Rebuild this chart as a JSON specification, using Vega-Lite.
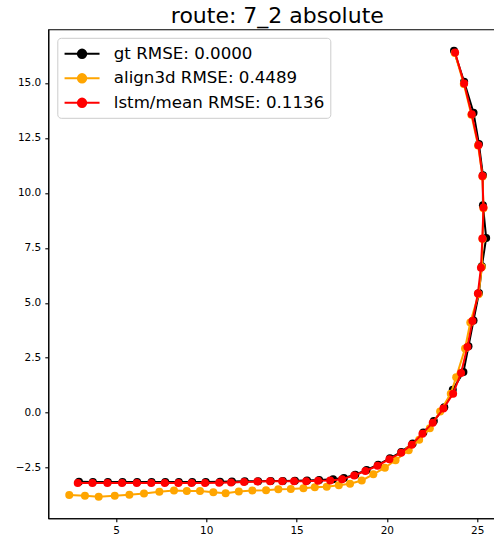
{
  "$schema": "https://vega.github.io/schema/vega-lite/v6.json",
  "width": 446,
  "height": 489,
  "autosize": {"type": "none"},
  "padding": {"left": 48.3, "top": 29.3, "right": 0, "bottom": 27.7},
  "background": "white",
  "title": {"text": "route: 7_2 absolute", "font": "DejaVu Sans", "fontSize": 22, "fontWeight": "normal", "color": "black", "anchor": "middle", "baseline": "alphabetic", "offset": 6, "dx": 6, "dy": 22},
  "config": {
    "view": {"stroke": "black", "strokeWidth": 1.1},
    "axis": {"grid": false, "domainColor": "black", "domainWidth": 1.1, "tickColor": "black", "tickSize": 3.5, "tickWidth": 1.1, "labelFont": "DejaVu Sans", "labelFontSize": 10.5, "labelColor": "black", "labelPadding": 4, "title": null}
  },
  "datasets": {
    "pts": [
      {"s": "gt RMSE: 0.0000", "i": 1, "x": 2.95, "y": -3.14},
      {"s": "gt RMSE: 0.0000", "i": 2, "x": 3.72, "y": -3.15},
      {"s": "gt RMSE: 0.0000", "i": 3, "x": 4.55, "y": -3.15},
      {"s": "gt RMSE: 0.0000", "i": 4, "x": 5.36, "y": -3.15},
      {"s": "gt RMSE: 0.0000", "i": 5, "x": 6.17, "y": -3.15},
      {"s": "gt RMSE: 0.0000", "i": 6, "x": 6.97, "y": -3.15},
      {"s": "gt RMSE: 0.0000", "i": 7, "x": 7.73, "y": -3.15},
      {"s": "gt RMSE: 0.0000", "i": 8, "x": 8.48, "y": -3.15},
      {"s": "gt RMSE: 0.0000", "i": 9, "x": 9.22, "y": -3.15},
      {"s": "gt RMSE: 0.0000", "i": 10, "x": 9.97, "y": -3.15},
      {"s": "gt RMSE: 0.0000", "i": 11, "x": 10.76, "y": -3.14},
      {"s": "gt RMSE: 0.0000", "i": 12, "x": 11.42, "y": -3.13},
      {"s": "gt RMSE: 0.0000", "i": 13, "x": 12.13, "y": -3.12},
      {"s": "gt RMSE: 0.0000", "i": 14, "x": 12.87, "y": -3.11},
      {"s": "gt RMSE: 0.0000", "i": 15, "x": 13.57, "y": -3.10},
      {"s": "gt RMSE: 0.0000", "i": 16, "x": 14.24, "y": -3.10},
      {"s": "gt RMSE: 0.0000", "i": 17, "x": 14.91, "y": -3.09},
      {"s": "gt RMSE: 0.0000", "i": 18, "x": 15.58, "y": -3.08},
      {"s": "gt RMSE: 0.0000", "i": 19, "x": 16.25, "y": -3.06},
      {"s": "gt RMSE: 0.0000", "i": 20, "x": 17.02, "y": -3.02},
      {"s": "gt RMSE: 0.0000", "i": 21, "x": 17.62, "y": -2.97},
      {"s": "gt RMSE: 0.0000", "i": 22, "x": 18.25, "y": -2.82},
      {"s": "gt RMSE: 0.0000", "i": 23, "x": 18.88, "y": -2.60},
      {"s": "gt RMSE: 0.0000", "i": 24, "x": 19.52, "y": -2.36},
      {"s": "gt RMSE: 0.0000", "i": 25, "x": 20.17, "y": -2.07},
      {"s": "gt RMSE: 0.0000", "i": 26, "x": 20.80, "y": -1.78},
      {"s": "gt RMSE: 0.0000", "i": 27, "x": 21.43, "y": -1.40},
      {"s": "gt RMSE: 0.0000", "i": 28, "x": 22.02, "y": -0.90},
      {"s": "gt RMSE: 0.0000", "i": 29, "x": 22.60, "y": -0.38},
      {"s": "gt RMSE: 0.0000", "i": 30, "x": 23.18, "y": 0.25},
      {"s": "gt RMSE: 0.0000", "i": 31, "x": 23.65, "y": 1.05},
      {"s": "gt RMSE: 0.0000", "i": 32, "x": 24.24, "y": 1.85},
      {"s": "gt RMSE: 0.0000", "i": 33, "x": 24.52, "y": 3.02},
      {"s": "gt RMSE: 0.0000", "i": 34, "x": 24.80, "y": 4.20},
      {"s": "gt RMSE: 0.0000", "i": 35, "x": 25.10, "y": 5.45},
      {"s": "gt RMSE: 0.0000", "i": 36, "x": 25.26, "y": 6.66},
      {"s": "gt RMSE: 0.0000", "i": 37, "x": 25.50, "y": 7.95},
      {"s": "gt RMSE: 0.0000", "i": 38, "x": 25.32, "y": 9.44},
      {"s": "gt RMSE: 0.0000", "i": 39, "x": 25.32, "y": 10.80},
      {"s": "gt RMSE: 0.0000", "i": 40, "x": 25.10, "y": 12.22},
      {"s": "gt RMSE: 0.0000", "i": 41, "x": 24.80, "y": 13.65},
      {"s": "gt RMSE: 0.0000", "i": 42, "x": 24.28, "y": 15.05},
      {"s": "gt RMSE: 0.0000", "i": 43, "x": 23.72, "y": 16.46},

      {"s": "align3d RMSE: 0.4489", "i": 1, "x": 2.41, "y": -3.74},
      {"s": "align3d RMSE: 0.4489", "i": 2, "x": 3.28, "y": -3.77},
      {"s": "align3d RMSE: 0.4489", "i": 3, "x": 4.04, "y": -3.82},
      {"s": "align3d RMSE: 0.4489", "i": 4, "x": 4.93, "y": -3.77},
      {"s": "align3d RMSE: 0.4489", "i": 5, "x": 5.74, "y": -3.73},
      {"s": "align3d RMSE: 0.4489", "i": 6, "x": 6.55, "y": -3.67},
      {"s": "align3d RMSE: 0.4489", "i": 7, "x": 7.40, "y": -3.59},
      {"s": "align3d RMSE: 0.4489", "i": 8, "x": 8.21, "y": -3.54},
      {"s": "align3d RMSE: 0.4489", "i": 9, "x": 8.92, "y": -3.56},
      {"s": "align3d RMSE: 0.4489", "i": 10, "x": 9.65, "y": -3.56},
      {"s": "align3d RMSE: 0.4489", "i": 11, "x": 10.39, "y": -3.62},
      {"s": "align3d RMSE: 0.4489", "i": 12, "x": 11.07, "y": -3.66},
      {"s": "align3d RMSE: 0.4489", "i": 13, "x": 11.80, "y": -3.58},
      {"s": "align3d RMSE: 0.4489", "i": 14, "x": 12.55, "y": -3.54},
      {"s": "align3d RMSE: 0.4489", "i": 15, "x": 13.31, "y": -3.52},
      {"s": "align3d RMSE: 0.4489", "i": 16, "x": 13.99, "y": -3.48},
      {"s": "align3d RMSE: 0.4489", "i": 17, "x": 14.68, "y": -3.47},
      {"s": "align3d RMSE: 0.4489", "i": 18, "x": 15.38, "y": -3.43},
      {"s": "align3d RMSE: 0.4489", "i": 19, "x": 16.01, "y": -3.39},
      {"s": "align3d RMSE: 0.4489", "i": 20, "x": 16.67, "y": -3.36},
      {"s": "align3d RMSE: 0.4489", "i": 21, "x": 17.34, "y": -3.30},
      {"s": "align3d RMSE: 0.4489", "i": 22, "x": 17.96, "y": -3.23},
      {"s": "align3d RMSE: 0.4489", "i": 23, "x": 18.61, "y": -3.08},
      {"s": "align3d RMSE: 0.4489", "i": 24, "x": 19.25, "y": -2.80},
      {"s": "align3d RMSE: 0.4489", "i": 25, "x": 19.89, "y": -2.50},
      {"s": "align3d RMSE: 0.4489", "i": 26, "x": 20.48, "y": -2.16},
      {"s": "align3d RMSE: 0.4489", "i": 27, "x": 21.21, "y": -1.70},
      {"s": "align3d RMSE: 0.4489", "i": 28, "x": 21.79, "y": -1.23},
      {"s": "align3d RMSE: 0.4489", "i": 29, "x": 22.38, "y": -0.71},
      {"s": "align3d RMSE: 0.4489", "i": 30, "x": 22.95, "y": 0.06},
      {"s": "align3d RMSE: 0.4489", "i": 31, "x": 23.54, "y": 0.87},
      {"s": "align3d RMSE: 0.4489", "i": 32, "x": 23.84, "y": 1.62},
      {"s": "align3d RMSE: 0.4489", "i": 33, "x": 24.33, "y": 2.92},
      {"s": "align3d RMSE: 0.4489", "i": 34, "x": 24.62, "y": 4.10},
      {"s": "align3d RMSE: 0.4489", "i": 35, "x": 25.08, "y": 5.39},
      {"s": "align3d RMSE: 0.4489", "i": 36, "x": 25.26, "y": 6.63},
      {"s": "align3d RMSE: 0.4489", "i": 37, "x": 25.30, "y": 7.90},
      {"s": "align3d RMSE: 0.4489", "i": 38, "x": 25.35, "y": 9.30},
      {"s": "align3d RMSE: 0.4489", "i": 39, "x": 25.30, "y": 10.75},
      {"s": "align3d RMSE: 0.4489", "i": 40, "x": 25.05, "y": 12.15},
      {"s": "align3d RMSE: 0.4489", "i": 41, "x": 24.68, "y": 13.55},
      {"s": "align3d RMSE: 0.4489", "i": 42, "x": 24.26, "y": 14.95},
      {"s": "align3d RMSE: 0.4489", "i": 43, "x": 23.76, "y": 16.36},

      {"s": "lstm/mean RMSE: 0.1136", "i": 1, "x": 2.88, "y": -3.20},
      {"s": "lstm/mean RMSE: 0.1136", "i": 2, "x": 3.69, "y": -3.20},
      {"s": "lstm/mean RMSE: 0.1136", "i": 3, "x": 4.52, "y": -3.20},
      {"s": "lstm/mean RMSE: 0.1136", "i": 4, "x": 5.33, "y": -3.20},
      {"s": "lstm/mean RMSE: 0.1136", "i": 5, "x": 6.15, "y": -3.20},
      {"s": "lstm/mean RMSE: 0.1136", "i": 6, "x": 6.95, "y": -3.19},
      {"s": "lstm/mean RMSE: 0.1136", "i": 7, "x": 7.70, "y": -3.19},
      {"s": "lstm/mean RMSE: 0.1136", "i": 8, "x": 8.45, "y": -3.19},
      {"s": "lstm/mean RMSE: 0.1136", "i": 9, "x": 9.18, "y": -3.19},
      {"s": "lstm/mean RMSE: 0.1136", "i": 10, "x": 9.93, "y": -3.19},
      {"s": "lstm/mean RMSE: 0.1136", "i": 11, "x": 10.71, "y": -3.18},
      {"s": "lstm/mean RMSE: 0.1136", "i": 12, "x": 11.37, "y": -3.17},
      {"s": "lstm/mean RMSE: 0.1136", "i": 13, "x": 12.09, "y": -3.15},
      {"s": "lstm/mean RMSE: 0.1136", "i": 14, "x": 12.83, "y": -3.13},
      {"s": "lstm/mean RMSE: 0.1136", "i": 15, "x": 13.53, "y": -3.12},
      {"s": "lstm/mean RMSE: 0.1136", "i": 16, "x": 14.20, "y": -3.12},
      {"s": "lstm/mean RMSE: 0.1136", "i": 17, "x": 14.86, "y": -3.11},
      {"s": "lstm/mean RMSE: 0.1136", "i": 18, "x": 15.53, "y": -3.11},
      {"s": "lstm/mean RMSE: 0.1136", "i": 19, "x": 16.19, "y": -3.09},
      {"s": "lstm/mean RMSE: 0.1136", "i": 20, "x": 16.86, "y": -3.08},
      {"s": "lstm/mean RMSE: 0.1136", "i": 21, "x": 17.52, "y": -3.02},
      {"s": "lstm/mean RMSE: 0.1136", "i": 22, "x": 18.19, "y": -2.85},
      {"s": "lstm/mean RMSE: 0.1136", "i": 23, "x": 18.81, "y": -2.65},
      {"s": "lstm/mean RMSE: 0.1136", "i": 24, "x": 19.48, "y": -2.41},
      {"s": "lstm/mean RMSE: 0.1136", "i": 25, "x": 20.14, "y": -2.11},
      {"s": "lstm/mean RMSE: 0.1136", "i": 26, "x": 20.79, "y": -1.82},
      {"s": "lstm/mean RMSE: 0.1136", "i": 27, "x": 21.38, "y": -1.45},
      {"s": "lstm/mean RMSE: 0.1136", "i": 28, "x": 21.97, "y": -0.95},
      {"s": "lstm/mean RMSE: 0.1136", "i": 29, "x": 22.54, "y": -0.45},
      {"s": "lstm/mean RMSE: 0.1136", "i": 30, "x": 23.13, "y": 0.19},
      {"s": "lstm/mean RMSE: 0.1136", "i": 31, "x": 23.67, "y": 0.87},
      {"s": "lstm/mean RMSE: 0.1136", "i": 32, "x": 24.11, "y": 1.81},
      {"s": "lstm/mean RMSE: 0.1136", "i": 33, "x": 24.46, "y": 2.99},
      {"s": "lstm/mean RMSE: 0.1136", "i": 34, "x": 24.74, "y": 4.17},
      {"s": "lstm/mean RMSE: 0.1136", "i": 35, "x": 25.04, "y": 5.42},
      {"s": "lstm/mean RMSE: 0.1136", "i": 36, "x": 25.21, "y": 6.60},
      {"s": "lstm/mean RMSE: 0.1136", "i": 37, "x": 25.29, "y": 7.92},
      {"s": "lstm/mean RMSE: 0.1136", "i": 38, "x": 25.35, "y": 9.33},
      {"s": "lstm/mean RMSE: 0.1136", "i": 39, "x": 25.29, "y": 10.77},
      {"s": "lstm/mean RMSE: 0.1136", "i": 40, "x": 25.07, "y": 12.17},
      {"s": "lstm/mean RMSE: 0.1136", "i": 41, "x": 24.70, "y": 13.58},
      {"s": "lstm/mean RMSE: 0.1136", "i": 42, "x": 24.28, "y": 14.97},
      {"s": "lstm/mean RMSE: 0.1136", "i": 43, "x": 23.78, "y": 16.38}
    ]
  },
  "data": {"name": "pts"},
  "encoding": {
    "x": {"field": "x", "type": "quantitative", "scale": {"domain": [1.25, 25.95], "nice": false, "zero": false}, "axis": {"values": [5, 10, 15, 20, 25], "format": "d"}},
    "y": {"field": "y", "type": "quantitative", "scale": {"domain": [-4.8, 17.44], "nice": false, "zero": false}, "axis": {"values": [-2.5, 0, 2.5, 5, 7.5, 10, 12.5, 15], "format": ".1f"}},
    "order": {"field": "i", "type": "quantitative"},
    "color": {
      "field": "s", "type": "nominal",
      "scale": {"domain": ["gt RMSE: 0.0000", "align3d RMSE: 0.4489", "lstm/mean RMSE: 0.1136"], "range": ["#000000", "#ffa500", "#ff0000"]},
      "legend": {
        "title": null, "orient": "none", "legendX": 9, "legendY": 8.5, "direction": "vertical",
        "symbolType": "M -1 0 L 3 0 M 0.52 0 A 0.48 0.48 0 1 0 1.48 0 A 0.48 0.48 0 1 0 0.52 0 Z",
        "symbolSize": 306, "symbolStrokeWidth": 2, "labelOffset": 30.5,
        "labelFont": "DejaVu Sans", "labelFontSize": 16.67, "labelColor": "black", "labelLimit": 400,
        "rowPadding": 5.5, "padding": 6, "fillColor": "rgba(255,255,255,0.8)", "strokeColor": "#cccccc", "cornerRadius": 3.5,
        "encode": {"symbols": {"update": {"fill": {"scale": "color", "field": "value"}, "stroke": {"scale": "color", "field": "value"}, "opacity": {"value": 1}}}}
      }
    }
  },
  "layer": [
    {"transform": [{"filter": "datum.s == 'gt RMSE: 0.0000'"}], "mark": {"type": "line", "strokeWidth": 2, "point": {"filled": true, "size": 64, "opacity": 1}}},
    {"transform": [{"filter": "datum.s == 'align3d RMSE: 0.4489'"}], "mark": {"type": "line", "strokeWidth": 2, "point": {"filled": true, "size": 64, "opacity": 1}}},
    {"transform": [{"filter": "datum.s == 'lstm/mean RMSE: 0.1136'"}], "mark": {"type": "line", "strokeWidth": 2, "point": {"filled": true, "size": 64, "opacity": 1}}}
  ]
}
